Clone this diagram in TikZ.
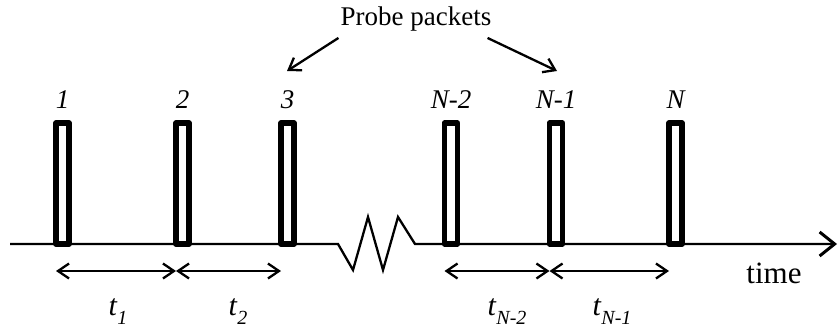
\documentclass[tikz,border=0pt]{standalone}
\usepackage{fontspec}
\setmainfont{Liberation Serif}
\usetikzlibrary{arrows.meta,positioning}
\newcommand\tsub[2]{\textit{#1}\raisebox{-0.3em}{\fontsize{20}{20}\selectfont\textit{#2}}}
\tikzset{
  packet/.style={draw,fill=white,line width=5.5pt,line join=round,outer sep=0pt,inner sep=0pt,
    minimum width=13pt,minimum height=121pt,anchor=south},
  num/.style={font=\fontsize{27}{27}\selectfont\itshape,inner sep=0pt},
  tlab/.style={font=\fontsize{30}{30}\selectfont,inner sep=0pt,anchor=base},
  span/.style={line width=2.3pt,{Straight Barb[length=11pt,width=15pt]}-{Straight Barb[length=11pt,width=15pt]}},
  ptr/.style={line width=2.3pt,-{Straight Barb[length=11pt,width=15pt]}},
  axis/.style={line width=2.3pt,-{Straight Barb[length=15pt,width=24pt,line width=3pt]}}
}
\begin{document}
\begin{tikzpicture}[x=1pt,y=-1pt]
\useasboundingbox (0,0) rectangle (840,327);
\coordinate (start) at (10,244);
\coordinate (end) at (837,244);
\coordinate (z0) at (338,244);
\coordinate (z1) at (353,270);
\coordinate (z2) at (368,217);
\coordinate (z3) at (383,270);
\coordinate (z4) at (398,217);
\coordinate (z5) at (415,244);
\draw[axis] (start) -- (z0) -- (z1) -- (z2) -- (z3) -- (z4) -- (z5) -- (end);
\foreach \name/\x/\txt in {p1/62.5/1, p2/182.5/2, p3/287.5/3, pn2/451/N-2, pn1/556/N-1, pn/675.5/N} {
  \node[packet] (\name) at (\x,244) {};
  \node[num, above=14pt of \name.north] (l\name) {\txt};
}
\coordinate (sp) at (0,271);
\draw[span] (p1.south west |- sp) -- (p2.south west |- sp);
\draw[span] (p2.south west |- sp) -- (p3.south west |- sp);
\draw[span] (pn2.south west |- sp) -- (pn1.south west |- sp);
\draw[span] (pn1.south west |- sp) -- (pn.south west |- sp);
\node[tlab] (t1) at (118,315) {\tsub{t}{1}};
\node[tlab] (t2) at (238,315) {\tsub{t}{2}};
\node[tlab] (tn2) at (507,315) {\tsub{t}{N-2}};
\node[tlab] (tn1) at (612,315) {\tsub{t}{N-1}};
\node[tlab,font=\fontsize{31}{31}\selectfont] (time) at (774,283) {time};
\node[tlab,font=\fontsize{27}{27}\selectfont] (probe) at (416,25) {Probe packets};
\coordinate (h3) at (287,71);
\coordinate (hn1) at (557,71);
\draw[ptr] ([shift={(-2,7)}]probe.south west) -- (h3);
\draw[ptr] ([shift={(-4,7)}]probe.south east) -- (hn1);
\end{tikzpicture}
\end{document}
